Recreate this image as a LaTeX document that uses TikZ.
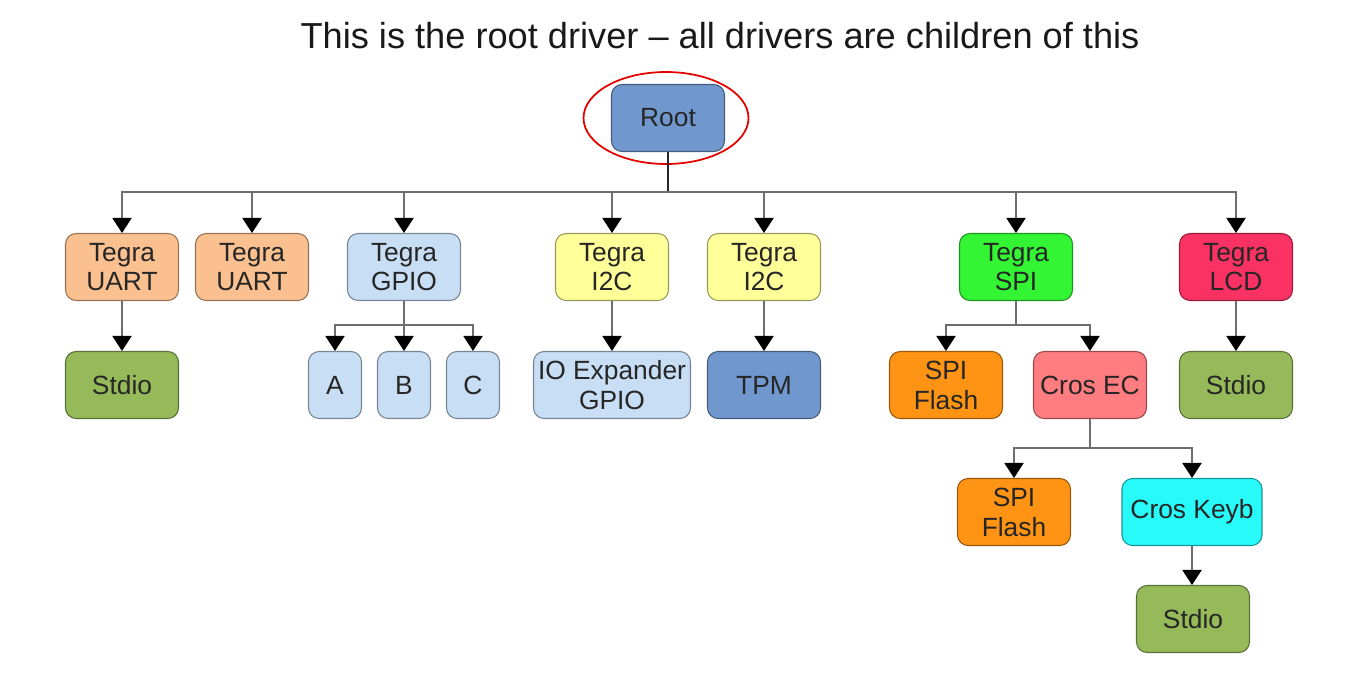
\documentclass[tikz,border=0pt]{standalone}
\usepackage{fontspec}
\setmainfont{Liberation Sans}
\usepackage{tikz}
\usetikzlibrary{arrows.meta, positioning, calc}

\definecolor{rootblue}{RGB}{112, 152, 206}
\definecolor{uartpeach}{RGB}{250, 192, 144}
\definecolor{gpioblue}{RGB}{200, 222, 244}
\definecolor{iicyellow}{RGB}{255, 255, 153}
\definecolor{spigreen}{RGB}{51, 245, 51}
\definecolor{lcdred}{RGB}{250, 50, 100}
\definecolor{stdiogreen}{RGB}{150, 186, 90}
\definecolor{flashorange}{RGB}{255, 148, 20}
\definecolor{ecpink}{RGB}{255, 124, 128}
\definecolor{keybcyan}{RGB}{40, 250, 250}
\definecolor{linkgray}{RGB}{110, 110, 110}

\begin{document}
\begin{tikzpicture}[x=0.02cm, y=-0.02cm,
  drv/.style={fill=#1, draw=#1!60!black, line width=0.6pt, rounded corners=6pt,
    minimum width=2.26cm, minimum height=1.34cm, inner sep=1pt, align=center,
    text=black!85, font=\fontsize{15}{17}\selectfont},
  link/.style={draw=linkgray, line width=1.1pt,
    -{Triangle[length=0.3cm, width=0.38cm, color=black]}},
  rootline/.style={draw=black!85, line width=1.6pt}]
  \useasboundingbox (0,0) rectangle (1353,681);

  % Title
  \node[font=\fontsize{20.6}{24}\selectfont, text=black!90] (title) at (720,36)
    {This is the root driver -- all drivers are children of this};

  % Root driver
  \node[drv=rootblue] (root) at (668,118) {Root};
  \draw[red!90!black, line width=1pt] (666,118) ellipse [x radius=1.65cm, y radius=0.92cm];

  % First level
  \node[drv=uartpeach] (uarta) at (122,267) {Tegra\\UART};
  \node[drv=uartpeach] (uartb) at (252,267) {Tegra\\UART};
  \node[drv=gpioblue] (gpio) at (404,267) {Tegra\\GPIO};
  \node[drv=iicyellow] (iica) at (612,267) {Tegra\\I2C};
  \node[drv=iicyellow] (iicb) at (764,267) {Tegra\\I2C};
  \node[drv=spigreen] (spi) at (1016,267) {Tegra\\SPI};
  \node[drv=lcdred] (lcd) at (1236,267) {Tegra\\LCD};

  % Second level
  \node[drv=stdiogreen] (stdioa) at (122,385) {Stdio};
  \node[drv=gpioblue, minimum width=1.06cm] (pina) at (335,385) {A};
  \node[drv=gpioblue, minimum width=1.06cm] (pinb) at (404,385) {B};
  \node[drv=gpioblue, minimum width=1.06cm] (pinc) at (473,385) {C};
  \node[drv=gpioblue, minimum width=3.14cm] (ioexp) at (612,385) {IO Expander\\GPIO};
  \node[drv=rootblue] (tpm) at (764,385) {TPM};
  \node[drv=flashorange] (flasha) at (946,385) {SPI\\Flash};
  \node[drv=ecpink] (crosec) at (1090,385) {Cros EC};
  \node[drv=stdiogreen] (stdiob) at (1236,385) {Stdio};

  % Third and fourth level
  \node[drv=flashorange] (flashb) at (1014,512) {SPI\\Flash};
  \node[drv=keybcyan, minimum width=2.8cm] (keyb) at (1192,512) {Cros Keyb};
  \node[drv=stdiogreen] (stdioc) at (1193,619) {Stdio};

  % Connectors
  \coordinate (bus) at (668,192);
  \draw[rootline] (root.south) -- (bus);
  \foreach \n in {uarta, uartb, gpio, iica, iicb, spi, lcd}
    \draw[link] (bus) -| (\n.north);

  \coordinate (gpiobus) at (404,325);
  \foreach \n in {pina, pinb, pinc}
    \draw[link] (gpio.south) -- (gpiobus) -| (\n.north);

  \coordinate (spibus) at (1016,325);
  \foreach \n in {flasha, crosec}
    \draw[link] (spi.south) -- (spibus) -| (\n.north);

  \coordinate (ecbus) at (1090,448);
  \foreach \n in {flashb, keyb}
    \draw[link] (crosec.south) -- (ecbus) -| (\n.north);

  \draw[link] (uarta) -- (stdioa);
  \draw[link] (iica) -- (ioexp);
  \draw[link] (iicb) -- (tpm);
  \draw[link] (lcd) -- (stdiob);
  \draw[link] (keyb.south) -- (keyb.south |- stdioc.north);
\end{tikzpicture}
\end{document}
